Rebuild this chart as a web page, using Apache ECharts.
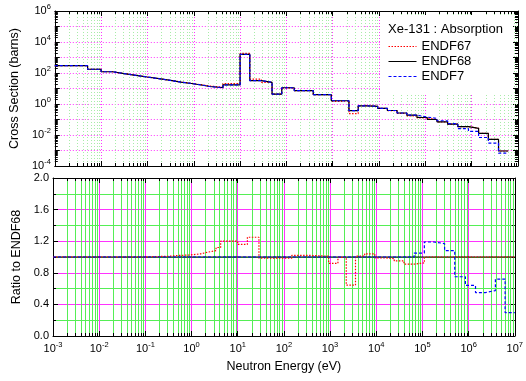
<!DOCTYPE html>
<html>
<head>
<meta charset="utf-8">
<script src="https://cdn.jsdelivr.net/npm/echarts@6/dist/echarts.min.js"></script>
<style>
  html, body { margin: 0; padding: 0; background: #fff; }
  #chart { width: 526px; height: 381px; }
</style>
</head>
<body>
<div id="chart"></div>
<script>
// Xe-131 absorption cross section, group-wise, three evaluations.
// Group boundaries (eV)
const energyEdges = [1e-3, 5.1e-3, 1e-2, 1.78e-2, 3.16e-2, 5.62e-2, 0.1, 0.178, 0.316, 0.525,
  0.89, 1.58, 2.19, 3.39, 4.27, 10, 16.2, 28.8, 49, 79.4,
  148, 380, 933, 1480, 2240, 3550, 5620, 9330, 1.51e4, 2.45e4,
  3.98e4, 6.61e4, 1.1e5, 1.78e5, 3.02e5, 5.01e5, 8.51e5, 1.41e6, 2.29e6, 3.8e6,
  6.17e6, 1e7];

// Group cross sections (barns)
const xsENDF68 = [295, 174, 120, 91, 71, 55, 43, 33, 26, 21,
  16.2, 13.5, 12, 11.5, 17, 1580, 32, 25, 4.4, 11.2,
  7.2, 4.0, 1.62, 1.62, 0.37, 0.76, 0.71, 0.525, 0.38, 0.263,
  0.19, 0.135, 0.1, 0.071, 0.05, 0.035, 0.027, 0.0126, 0.0052, 0.00093];
const xsENDF67 = [295, 174, 120, 91, 71, 55, 43.2, 33.3, 26.5, 21.5,
  16.8, 14.3, 13, 12.9, 20.4, 1830, 40, 24.6, 4.33, 11.0,
  7.35, 4.04, 1.49, 1.61, 0.24, 0.77, 0.74, 0.52, 0.372, 0.25,
  0.173, 0.125, 0.1, 0.071, 0.05, 0.035, 0.027, 0.0126, 0.0052, 0.00093];
const xsENDF7 = [295, 174, 120, 91, 71, 55, 43, 33, 26, 21,
  16.2, 13.5, 12, 11.5, 17, 1580, 32, 25, 4.4, 11.2,
  7.2, 4.0, 1.62, 1.62, 0.37, 0.76, 0.71, 0.525, 0.38, 0.263,
  0.19, 0.142, 0.119, 0.083, 0.054, 0.026, 0.0173, 0.0069, 0.003, 0.00067];

// Ratios to ENDF68, per group
const ratioENDF68 = [1, 1, 1, 1, 1, 1, 1, 1, 1, 1,
  1, 1, 1, 1, 1, 1, 1, 1, 1, 1,
  1, 1, 1, 1, 1, 1, 1, 1, 1, 1,
  1, 1, 1, 1, 1, 1, 1, 1, 1, 1, 1];
const ratioENDF67 = [1, 1, 1, 1, 1, 1, 1.005, 1.01, 1.02, 1.025,
  1.04, 1.06, 1.08, 1.12, 1.2, 1.16, 1.25, 0.985, 0.985, 0.985,
  1.02, 1.01, 0.92, 0.995, 0.645, 1.01, 1.04, 0.99, 0.98, 0.95,
  0.91, 0.925, 1, 1, 1, 1, 1, 1, 1, 1, 1];
const ratioENDF7 = [1, 1, 1, 1, 1, 1, 1, 1, 1, 1,
  1, 1, 1, 1, 1, 1, 1, 1, 1, 1,
  1, 1, 1, 1, 1, 1, 1, 1, 1, 1,
  1, 1.05, 1.19, 1.17, 1.08, 0.75, 0.64, 0.55, 0.575, 0.72, 0.295];

// Tick labels
const energyLabelExponents = [-3, -2, -1, 0, 1, 2, 3, 4, 5, 6, 7];
const xsLabelExponents = [-4, -2, 0, 2, 4, 6];
const ratioLabels = ['0.0', '0.4', '0.8', '1.2', '1.6', '2.0'];

const FONT = '"Liberation Sans", Arial, Helvetica, sans-serif';
const LOG = Math.log10;

// Axes run in decades; data are placed at log10 of their values.
function stepPoints(edges, vals, toY) {
  const pts = [];
  for (let i = 0; i < vals.length; i++) {
    const y = toY(vals[i]);
    pts.push([LOG(edges[i]), y], [LOG(edges[i + 1]), y]);
  }
  return pts;
}

// Positions of 2..9 within each decade
function minorDecades(lo, hi) {
  const out = [];
  for (let d = lo; d < hi; d++) {
    for (let k = 2; k <= 9; k++) out.push(d + LOG(k));
  }
  return out;
}

const powRich = {
  b: { fontSize: 11, lineHeight: 16, fontFamily: FONT, color: '#000' },
  e: { fontSize: 7.5, lineHeight: 8, verticalAlign: 'top', fontFamily: FONT, color: '#000' }
};
function powLabel(v) { return '{b|10}{e|' + Math.round(v) + '}'; }

function xMinorRender(lineStyle, tickLen) {
  return function (params, api) {
    const cs = params.coordSys;
    const x = Math.round(api.coord([api.value(0), api.value(1)])[0]) + 0.5;
    const top = cs.y, bottom = cs.y + cs.height;
    return {
      type: 'group',
      children: [
        { type: 'line', shape: { x1: x, y1: top, x2: x, y2: bottom }, style: lineStyle },
        { type: 'line', shape: { x1: x, y1: bottom, x2: x, y2: bottom - tickLen }, style: { stroke: '#000', lineWidth: 1 } },
        { type: 'line', shape: { x1: x, y1: top, x2: x, y2: top + tickLen }, style: { stroke: '#000', lineWidth: 1 } }
      ]
    };
  };
}
function yMinorTickRender(tickLen) {
  return function (params, api) {
    const cs = params.coordSys;
    const y = Math.round(api.coord([api.value(0), api.value(1)])[1]) + 0.5;
    const left = cs.x, right = cs.x + cs.width;
    return {
      type: 'group',
      children: [
        { type: 'line', shape: { x1: left, y1: y, x2: left + tickLen, y2: y }, style: { stroke: '#000', lineWidth: 1 } },
        { type: 'line', shape: { x1: right, y1: y, x2: right - tickLen, y2: y }, style: { stroke: '#000', lineWidth: 1 } }
      ]
    };
  };
}

const axisBlack = { show: true, onZero: false, lineStyle: { color: '#000', width: 1 } };
const tickIn = { show: true, inside: true, length: 5, lineStyle: { color: '#000', width: 1 } };

function energyAxis(gridIndex, position, extra) {
  return Object.assign({
    type: 'value', gridIndex: gridIndex, position: position,
    min: -3, max: 7, interval: 1,
    axisLine: axisBlack, axisTick: tickIn,
    axisLabel: { show: false }, splitLine: { show: false }
  }, extra || {});
}

const option = {
  animation: false,
  backgroundColor: '#fff',
  textStyle: { fontFamily: FONT },
  grid: [
    { left: 53, right: 8, top: 11, height: 155 },
    { left: 53, right: 8, top: 178, height: 158 }
  ],
  title: {
    text: 'Xe-131 : Absorption',
    left: 388, top: 23, padding: 0, z: 20,
    textStyle: { fontSize: 13, fontWeight: 'normal', color: '#000', fontFamily: FONT }
  },
  legend: {
    data: ['ENDF67', 'ENDF68', 'ENDF7'],
    orient: 'vertical', left: 388, top: 40, padding: 0, z: 20,
    itemWidth: 28, itemHeight: 14, itemGap: 2,
    itemStyle: { color: 'rgba(0,0,0,0)', borderWidth: 0, opacity: 0 },
    lineStyle: { width: 1 },
    textStyle: { fontSize: 13, color: '#000', fontFamily: FONT }
  },
  graphic: [
    { type: 'rect', left: 381, top: 15, z: 10, shape: { width: 132, height: 78 }, style: { fill: '#fff' } }
  ],
  xAxis: [
    energyAxis(0, 'bottom', {
      splitLine: { show: true, lineStyle: { color: '#ff33ff', width: 1, type: [1, 2] } }
    }),
    energyAxis(0, 'top'),
    energyAxis(1, 'bottom', {
      name: 'Neutron Energy (eV)', nameLocation: 'middle', nameGap: 24,
      nameTextStyle: { fontSize: 12.5, color: '#000', fontFamily: FONT },
      axisLabel: {
        show: true, margin: 5,
        formatter: function (v) { return energyLabelExponents.indexOf(Math.round(v)) >= 0 ? powLabel(v) : ''; },
        rich: powRich
      },
      splitLine: { show: true, lineStyle: { color: '#ff33ff', width: 1 } }
    }),
    energyAxis(1, 'top')
  ],
  yAxis: [
    {
      type: 'value', gridIndex: 0, position: 'left', min: -4, max: 6, interval: 1,
      name: 'Cross Section (barns)', nameLocation: 'middle', nameRotate: 90, nameGap: 30,
      nameTextStyle: { fontSize: 12.5, color: '#000', fontFamily: FONT },
      axisLine: axisBlack, axisTick: tickIn,
      axisLabel: {
        show: true, margin: 4,
        formatter: function (v) { return xsLabelExponents.indexOf(Math.round(v)) >= 0 ? powLabel(v) : ''; },
        rich: powRich
      },
      splitLine: { show: true, lineStyle: { color: '#ff33ff', width: 1, type: [1, 2] } }
    },
    {
      type: 'value', gridIndex: 0, position: 'right', min: -4, max: 6, interval: 1,
      axisLine: axisBlack, axisTick: tickIn, axisLabel: { show: false }, splitLine: { show: false }
    },
    {
      type: 'value', gridIndex: 1, position: 'left', min: 0, max: 2, interval: 0.4,
      name: 'Ratio to ENDF68', nameLocation: 'middle', nameRotate: 90, nameGap: 30,
      nameTextStyle: { fontSize: 12.5, color: '#000', fontFamily: FONT },
      axisLine: axisBlack, axisTick: tickIn,
      minorTick: { show: true, splitNumber: 2, length: 3, lineStyle: { color: '#000' } },
      axisLabel: {
        show: true, margin: 4, fontSize: 11, color: '#000', fontFamily: FONT,
        formatter: function (v) { return ratioLabels[Math.round(v / 0.4)]; }
      },
      splitLine: { show: true, lineStyle: { color: '#ff33ff', width: 1 } },
      minorSplitLine: { show: true, lineStyle: { color: '#55ee55', width: 1 } }
    },
    {
      type: 'value', gridIndex: 1, position: 'right', min: 0, max: 2, interval: 0.4,
      axisLine: axisBlack, axisTick: tickIn,
      minorTick: { show: true, splitNumber: 2, length: 3, lineStyle: { color: '#000' } },
      axisLabel: { show: false }, splitLine: { show: false }
    }
  ],
  series: [
    // minor grid and ticks, upper panel
    {
      type: 'custom', xAxisIndex: 0, yAxisIndex: 0, silent: true, z: 1,
      data: minorDecades(-3, 7).map(function (v) { return [v, 0]; }),
      renderItem: xMinorRender({ stroke: '#a8eca8', lineWidth: 1, lineDash: [1, 2] }, 3)
    },
    {
      type: 'custom', xAxisIndex: 0, yAxisIndex: 0, silent: true, z: 1,
      data: minorDecades(-4, 6).map(function (v) { return [0, v]; }),
      renderItem: yMinorTickRender(3)
    },
    // minor grid and ticks, lower panel
    {
      type: 'custom', xAxisIndex: 2, yAxisIndex: 2, silent: true, z: 1,
      data: minorDecades(-3, 7).map(function (v) { return [v, 1]; }),
      renderItem: xMinorRender({ stroke: '#55ee55', lineWidth: 1 }, 3)
    },
    // cross sections
    {
      name: 'ENDF67', type: 'line', xAxisIndex: 0, yAxisIndex: 0, z: 3,
      symbol: 'none', data: stepPoints(energyEdges, xsENDF67, LOG),
      lineStyle: { color: '#ff0000', width: 1.2, type: [1.5, 1.5] }, itemStyle: { color: '#ff0000' }
    },
    {
      name: 'ENDF68', type: 'line', xAxisIndex: 0, yAxisIndex: 0, z: 4,
      symbol: 'none', data: stepPoints(energyEdges, xsENDF68, LOG),
      lineStyle: { color: '#000000', width: 1.2 }, itemStyle: { color: '#000000' }
    },
    {
      name: 'ENDF7', type: 'line', xAxisIndex: 0, yAxisIndex: 0, z: 5,
      symbol: 'none', data: stepPoints(energyEdges, xsENDF7, LOG),
      lineStyle: { color: '#0000ff', width: 1.2, type: [3, 2] }, itemStyle: { color: '#0000ff' }
    },
    // ratios
    {
      name: 'ENDF68', type: 'line', xAxisIndex: 2, yAxisIndex: 2, z: 3,
      symbol: 'none', data: stepPoints(energyEdges, ratioENDF68, function (r) { return r; }),
      lineStyle: { color: '#000000', width: 1 }
    },
    {
      name: 'ENDF67', type: 'line', xAxisIndex: 2, yAxisIndex: 2, z: 4,
      symbol: 'none', data: stepPoints(energyEdges, ratioENDF67, function (r) { return r; }),
      lineStyle: { color: '#ff0000', width: 1.2, type: [1.5, 1.5] }
    },
    {
      name: 'ENDF7', type: 'line', xAxisIndex: 2, yAxisIndex: 2, z: 5,
      symbol: 'none', data: stepPoints(energyEdges, ratioENDF7, function (r) { return r; }),
      lineStyle: { color: '#0000ff', width: 1.2, type: [3, 2] }
    }
  ]
};

const chart = echarts.init(document.getElementById('chart'), null, { renderer: 'canvas' });
chart.setOption(option);
</script>
</body>
</html>
